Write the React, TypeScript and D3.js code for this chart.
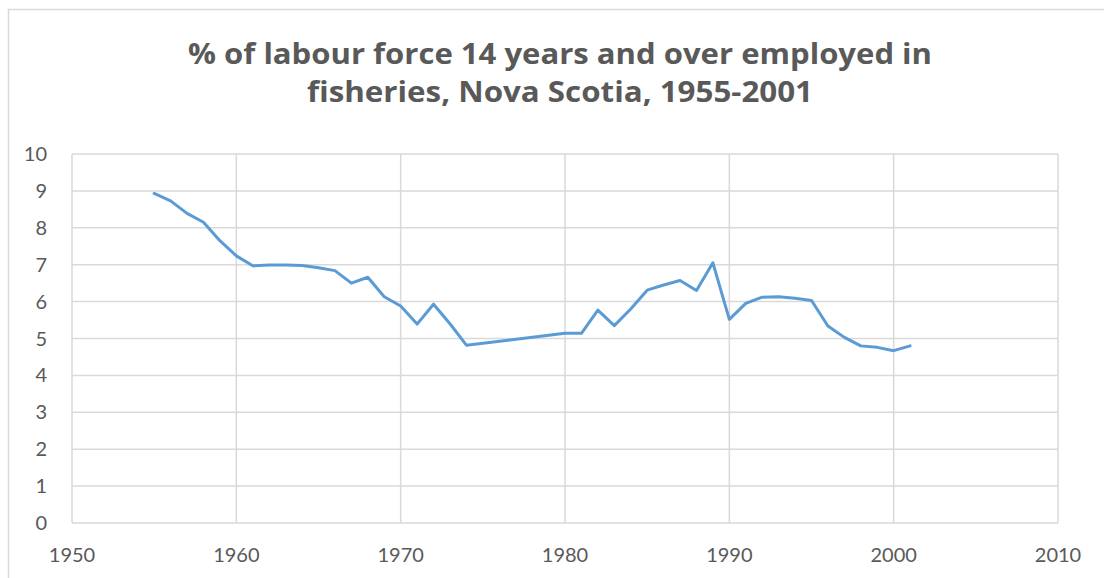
import React, { useEffect, useRef } from "react";
import * as d3 from "d3";

// years with data (no values between 1974 and 1980)
const years = [
  1955, 1956, 1957, 1958, 1959, 1960, 1961, 1962, 1963, 1964, 1965, 1966, 1967, 1968, 1969,
  1970, 1971, 1972, 1973, 1974, 1980, 1981, 1982, 1983, 1984, 1985, 1986, 1987, 1988, 1989,
  1990, 1991, 1992, 1993, 1994, 1995, 1996, 1997, 1998, 1999, 2000, 2001,
];
const pctEmployed = [
  8.93, 8.73, 8.39, 8.15, 7.65, 7.24, 6.97, 6.99, 6.99, 6.98, 6.92, 6.84, 6.5, 6.66, 6.13,
  5.88, 5.39, 5.93, 5.4, 4.82, 5.14, 5.14, 5.77, 5.35, 5.8, 6.31, 6.45, 6.57, 6.3, 7.05,
  5.52, 5.95, 6.12, 6.13, 6.09, 6.03, 5.34, 5.03, 4.8, 4.76, 4.67, 4.8,
];
const xTicks = [1950, 1960, 1970, 1980, 1990, 2000, 2010];
const yTicks = [0, 1, 2, 3, 4, 5, 6, 7, 8, 9, 10];
const titleLines = [
  "% of labour force 14 years and over employed in",
  "fisheries, Nova Scotia, 1955-2001",
];
const titleWidths = [744, 506];

export default function App() {
  const ref = useRef<SVGSVGElement>(null);

  useEffect(() => {
    document.body.style.margin = "0";
    const width = 1104;
    const height = 578;
    const margin = { left: 72, right: 46, top: 154, bottom: 55 };
    const gridColor = "#d9d9d9";
    const textColor = "#595959";
    const font = "Lato, 'Open Sans', sans-serif";

    const svg = d3.select(ref.current);
    svg.selectAll("*").remove();
    svg.attr("width", width).attr("height", height);

    // chart frame
    svg.append("rect")
      .attr("x", 8.5).attr("y", 9.5)
      .attr("width", 1120).attr("height", 600)
      .attr("fill", "white")
      .attr("stroke", gridColor)
      .attr("stroke-width", 1.5);

    const x = d3.scaleLinear()
      .domain([1950, 2010])
      .range([margin.left, width - margin.right]);
    const y = d3.scaleLinear()
      .domain([0, 10])
      .range([height - margin.bottom, margin.top]);

    // horizontal gridlines
    svg.append("g")
      .selectAll("line")
      .data(yTicks)
      .enter()
      .append("line")
      .attr("x1", x(1950)).attr("x2", x(2010))
      .attr("y1", (d) => y(d)).attr("y2", (d) => y(d))
      .attr("stroke", gridColor)
      .attr("stroke-width", 1.5);

    // vertical gridlines
    svg.append("g")
      .selectAll("line")
      .data(xTicks)
      .enter()
      .append("line")
      .attr("x1", (d) => x(d)).attr("x2", (d) => x(d))
      .attr("y1", y(0)).attr("y2", y(10))
      .attr("stroke", gridColor)
      .attr("stroke-width", 1.5);

    // y tick labels
    svg.append("g")
      .selectAll("text")
      .data(yTicks)
      .enter()
      .append("text")
      .attr("x", 47)
      .attr("y", (d) => y(d))
      .attr("dy", "0.35em")
      .attr("text-anchor", "end")
      .attr("font-family", font)
      .attr("font-size", 20)
      .attr("fill", textColor)
      .text((d) => d);

    // x tick labels
    svg.append("g")
      .selectAll("text")
      .data(xTicks)
      .enter()
      .append("text")
      .attr("x", (d) => x(d))
      .attr("y", 562)
      .attr("text-anchor", "middle")
      .attr("font-family", font)
      .attr("font-size", 20)
      .attr("fill", textColor)
      .text((d) => d);

    // the series line
    const points: [number, number][] = years.map((yr, i) => [yr, pctEmployed[i]]);
    const line = d3.line<[number, number]>()
      .x((d) => x(d[0]))
      .y((d) => y(d[1]));
    svg.append("path")
      .datum(points)
      .attr("d", line)
      .attr("fill", "none")
      .attr("stroke", "#5b9bd5")
      .attr("stroke-width", 3)
      .attr("stroke-linejoin", "round")
      .attr("stroke-linecap", "round");

    // title
    svg.append("g")
      .selectAll("text")
      .data(titleLines)
      .enter()
      .append("text")
      .attr("x", 560)
      .attr("y", (d, i) => 64 + i * 38)
      .attr("text-anchor", "middle")
      .attr("textLength", (d, i) => titleWidths[i])
      .attr("lengthAdjust", "spacingAndGlyphs")
      .attr("font-family", "'Open Sans', sans-serif")
      .attr("font-weight", "bold")
      .attr("font-size", 28)
      .attr("fill", textColor)
      .text((d) => d);
  }, []);

  return <svg ref={ref} style={{ display: "block" }}></svg>;
}
